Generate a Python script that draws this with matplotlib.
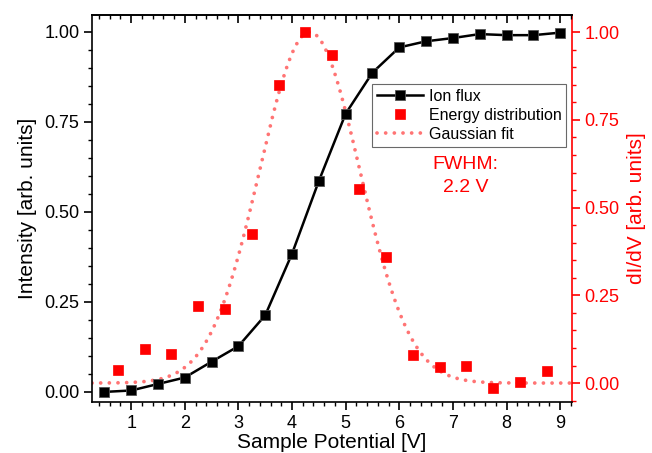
import numpy as np
import matplotlib
matplotlib.use("Agg")
import matplotlib.pyplot as plt
from matplotlib.ticker import MultipleLocator, FormatStrFormatter

plt.rcParams['font.family'] = ['Liberation Sans', 'DejaVu Sans']

# Ion flux (left axis)
ion_x = [0.5, 1.0, 1.5, 2.0, 2.5, 3.0, 3.5, 4.0, 4.5, 5.0, 5.5, 6.0, 6.5, 7.0, 7.5, 8.0, 8.5, 9.0]
ion_y = [0.0, 0.004, 0.022, 0.040, 0.084, 0.127, 0.213, 0.384, 0.586, 0.773, 0.887,
         0.957, 0.974, 0.983, 0.994, 0.991, 0.991, 0.998]

# Energy distribution (right axis)
en_x = [0.75, 1.25, 1.75, 2.25, 2.75, 3.25, 3.75, 4.25, 4.75, 5.25, 5.75, 6.25, 6.75,
        7.25, 7.75, 8.25, 8.75]
en_y = [0.037, 0.096, 0.083, 0.220, 0.210, 0.425, 0.850, 1.000, 0.935, 0.553, 0.358,
        0.080, 0.047, 0.048, -0.015, 0.002, 0.035]

# Gaussian fit parameters
fit_center = 4.33
fit_fwhm = 2.2
fit_amp = 1.0
fit_xmin, fit_xmax = 0.27, 9.22

fig = plt.figure(figsize=(6.52, 4.53), dpi=100)
ax = fig.add_axes([92/652, 1-402/453, (572-92)/652, (402-15)/453])
ax2 = ax.twinx()

sigma = fit_fwhm / (2*np.sqrt(2*np.log(2)))
gx = np.linspace(fit_xmin, fit_xmax, 600)
gy = fit_amp*np.exp(-(gx-fit_center)**2/(2*sigma**2))
fit_col = '#ff7474'
red = '#ff0000'

l3, = ax2.plot(gx, gy, linestyle=(0, (0.01, 2.3)), color=fit_col, lw=2.7,
               dash_capstyle='round', zorder=1)
l2, = ax2.plot(en_x, en_y, 's', color=red, ms=7.3, mec=red, mew=0.5, zorder=3)
l1, = ax.plot(ion_x, ion_y, '-s', color='black', lw=1.8, ms=6.8, mec='#555555', mew=0.6, zorder=4)

ax.set_zorder(ax2.get_zorder()+1)
ax.patch.set_visible(False)

ax.set_xlim(0.27, 9.22)
ax.set_ylim(-0.028, 1.047)
ax2.set_ylim(-0.054, 1.049)

ax.xaxis.set_major_locator(MultipleLocator(1))
ax.xaxis.set_minor_locator(MultipleLocator(0.2))
ax.yaxis.set_major_locator(MultipleLocator(0.25))
ax.yaxis.set_minor_locator(MultipleLocator(0.05))
ax2.yaxis.set_major_locator(MultipleLocator(0.25))
ax2.yaxis.set_minor_locator(MultipleLocator(0.05))
ax.yaxis.set_major_formatter(FormatStrFormatter('%.2f'))
ax2.yaxis.set_major_formatter(FormatStrFormatter('%.2f'))

ax.tick_params(axis='x', which='both', direction='out', top=False, labelsize=13, pad=3)
ax.tick_params(axis='x', which='major', length=6, width=1.2)
ax.tick_params(axis='x', which='minor', length=3, width=1.0)
ax.tick_params(axis='y', which='major', direction='out', length=6, width=1.2, labelsize=13, pad=3)
ax.tick_params(axis='y', which='minor', direction='out', length=3, width=1.0)
ax.tick_params(axis='y', right=False)

top = ax.secondary_xaxis('top')
top.xaxis.set_major_locator(MultipleLocator(1))
top.xaxis.set_minor_locator(MultipleLocator(0.2))
top.tick_params(axis='x', which='major', direction='in', length=6, width=1.2, labeltop=False)
top.tick_params(axis='x', which='minor', direction='in', length=3, width=1.0)
top.spines['top'].set_linewidth(1.2)

ax2.tick_params(axis='y', which='major', direction='out', length=6, width=1.2,
                labelsize=13, colors=red, pad=3)
ax2.tick_params(axis='y', which='minor', direction='out', length=3, width=1.0, colors=red)
ax2.spines['right'].set_color(red)
ax2.spines['right'].set_linewidth(1.2)
for s in ['left', 'top', 'bottom']:
    ax.spines[s].set_linewidth(1.2)
ax.spines['right'].set_visible(False)
for s in ['left', 'top', 'bottom']:
    ax2.spines[s].set_visible(False)

ax.set_xlabel('Sample Potential [V]', fontsize=15, labelpad=1)
ax.set_ylabel('Intensity [arb. units]', fontsize=15, labelpad=5)
ax2.set_ylabel('dI/dV [arb. units]', fontsize=15, color=red, labelpad=5)

leg = ax.legend([l1, l2, l3], ['Ion flux', 'Energy distribution', 'Gaussian fit'],
                loc='upper left', bbox_to_anchor=((372-92)/480, 1-(84-15)/387),
                borderaxespad=0, fontsize=11.5, frameon=True, fancybox=False,
                edgecolor='#444444', borderpad=0.3, handlelength=2.9,
                handletextpad=0.35, labelspacing=0.25)
leg.get_frame().set_linewidth(0.8)

ax.text(7.23, 0.60, 'FWHM:\n2.2 V', color=red, fontsize=14, ha='center', va='center',
        linespacing=1.45)

fig.savefig('out.png', dpi=100)
